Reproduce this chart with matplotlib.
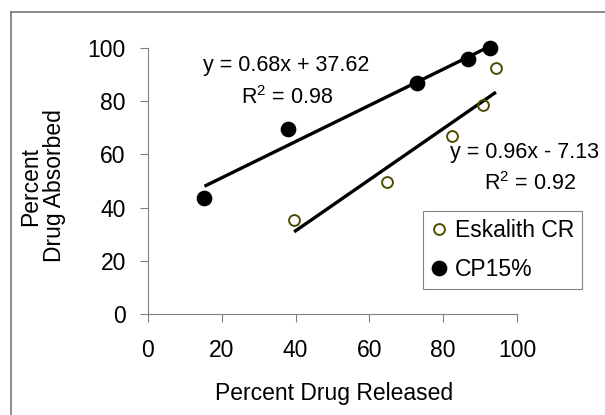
import matplotlib
matplotlib.use("Agg")
import matplotlib.pyplot as plt
from matplotlib.lines import Line2D

plt.rcParams['font.family'] = ['Liberation Sans', 'DejaVu Sans']
plt.rcParams['mathtext.fontset'] = 'custom'
plt.rcParams['mathtext.rm'] = 'Liberation Sans'
plt.rcParams['mathtext.it'] = 'Liberation Sans'

# values
esk_released = [39.6, 64.7, 82.3, 90.9, 94.3]
esk_absorbed = [35.3, 49.5, 66.9, 78.6, 92.4]
cp_released = [15.3, 38.0, 72.8, 86.8, 92.7]
cp_absorbed = [43.5, 69.4, 87.0, 95.7, 99.9]

# trendline equations shown on the chart
esk_slope, esk_intercept, esk_r2 = 0.96, -7.13, 0.92
cp_slope, cp_intercept, cp_r2 = 0.68, 37.62, 0.98

x_ticks = [0, 20, 40, 60, 80, 100]
y_ticks = [0, 20, 40, 60, 80, 100]

fs = 16.5
eq_fs = 15.5
olive = '#4d4d00'
gray = '#808080'

fig = plt.figure(figsize=(6.05, 4.15), dpi=100)
ax = fig.add_axes([148 / 605, 101 / 415, 369 / 605, 266 / 415])


def eq_text(m, b):
    sign = '+' if b >= 0 else '-'
    return f"y = {m:.2f}x {sign} {abs(b):.2f}"


# trendlines from min to max x of each series
for xs, m, b in [(cp_released, cp_slope, cp_intercept),
                 (esk_released, esk_slope, esk_intercept)]:
    x0, x1 = min(xs), max(xs)
    ax.plot([x0, x1], [m * x0 + b, m * x1 + b], color='black', lw=2.4,
            solid_capstyle='butt', zorder=2)

ax.plot(esk_released, esk_absorbed, ls='none', marker='o', ms=7.8,
        mfc='none', mec=olive, mew=1.4, label='Eskalith CR', zorder=3,
        clip_on=False)
ax.plot(cp_released, cp_absorbed, ls='none', marker='o', ms=10.3,
        mfc='black', mec='black', label='CP15%', zorder=3, clip_on=False)

ax.text(37.4, 93.6, eq_text(cp_slope, cp_intercept), fontsize=eq_fs,
        ha='center', va='center')
ax.text(37.7, 81.2, f"R$^{{2}}$ = {cp_r2:.2f}", fontsize=eq_fs,
        ha='center', va='center')
ax.text(101.9, 60.9, eq_text(esk_slope, esk_intercept), fontsize=eq_fs,
        ha='center', va='center')
ax.text(103.4, 49.1, f"R$^{{2}}$ = {esk_r2:.2f}", fontsize=eq_fs,
        ha='center', va='center')

ax.set_xlim(0, 100)
ax.set_ylim(0, 100)
ax.set_xticks(x_ticks)
ax.set_yticks(y_ticks)
ax.tick_params(axis='both', direction='out', length=6, width=0.8,
               color=gray, labelsize=fs)
ax.tick_params(axis='x', pad=12)
ax.tick_params(axis='y', pad=10)
for side in ['top', 'right']:
    ax.spines[side].set_visible(False)
for side in ['left', 'bottom']:
    ax.spines[side].set_color(gray)
    ax.spines[side].set_linewidth(0.8)

fig.text(334 / 605, 15 / 415, 'Percent Drug Released', fontsize=fs,
         ha='center', va='baseline')
fig.text(43 / 605, 229 / 415, 'Percent\nDrug Absorbed', fontsize=fs,
         ha='center', va='center', rotation=90, multialignment='center',
         linespacing=1.05)

leg = ax.legend(loc='upper left', bbox_to_anchor=(423 / 605, 204 / 415),
                bbox_transform=fig.transFigure, borderaxespad=0,
                fontsize=fs, frameon=True, fancybox=False,
                handlelength=0.7, handletextpad=0.35, borderpad=0.35,
                labelspacing=0.7)
leg.get_frame().set_edgecolor('#666666')
leg.get_frame().set_linewidth(0.8)

# outer border of the chart area
fig.add_artist(Line2D([11 / 605, 11 / 605], [0, 402.5 / 415],
                      transform=fig.transFigure, color='#777777', lw=1.2))
fig.add_artist(Line2D([11 / 605, 1.0], [402.5 / 415, 402.5 / 415],
                      transform=fig.transFigure, color='#777777', lw=1.2))

fig.savefig('out.png', dpi=100)
